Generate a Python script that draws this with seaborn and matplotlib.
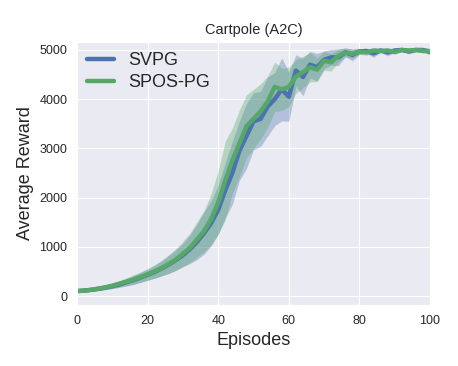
import numpy as np
import pandas as pd
import seaborn as sns
import matplotlib.pyplot as plt

episodes = list(range(0, 101, 2))

svpg_mean = [100, 110, 125, 145, 170, 200, 235, 280, 325, 375, 430, 490, 560, 640, 730, 830,
             950, 1100, 1280, 1480, 1750, 2150, 2500, 2950, 3250, 3550, 3600, 3850, 4000, 4200,
             4050, 4580, 4450, 4700, 4650, 4800, 4850, 4850, 4950, 4900, 4970, 4980, 4930, 4990,
             4950, 4990, 5000, 4970, 5000, 5000, 4960]
svpg_spread = [20, 25, 30, 35, 40, 50, 60, 75, 90, 100, 110, 130, 150, 180, 210, 240,
               290, 360, 430, 460, 500, 560, 640, 600, 660, 580, 560, 600, 540, 640,
               500, 320, 380, 270, 280, 180, 160, 170, 90, 120, 60, 50, 80, 40,
               70, 40, 30, 50, 30, 30, 60]

spos_mean = [100, 110, 125, 150, 175, 210, 250, 290, 335, 385, 440, 500, 570, 650, 740, 860,
             980, 1150, 1320, 1560, 1900, 2350, 2750, 3100, 3450, 3600, 3750, 3950, 4250, 4200,
             4250, 4460, 4550, 4650, 4600, 4780, 4750, 4880, 4950, 4920, 4970, 4950, 4990, 4980,
             4990, 4960, 5000, 4990, 5000, 4980, 4980]
spos_spread = [20, 25, 30, 35, 45, 55, 65, 80, 95, 105, 120, 135, 160, 190, 220, 250,
               300, 360, 420, 520, 640, 800, 660, 680, 640, 600, 560, 520, 500, 430,
               400, 340, 320, 300, 240, 190, 180, 130, 90, 90, 60, 60, 40, 40,
               30, 50, 30, 30, 30, 40, 40]

sns.set_style('darkgrid')
plt.rcParams['font.family'] = ['Liberation Sans', 'DejaVu Sans']

fig = plt.figure(figsize=(4.58, 3.66), dpi=100)
ax = fig.add_axes([0.168, 0.167, 0.771, 0.718])

colors = {'SVPG': '#4C72B0', 'SPOS-PG': '#55A868'}
series = [('SVPG', svpg_mean, svpg_spread), ('SPOS-PG', spos_mean, spos_spread)]

for name, mean, spread in series:
    m = np.array(mean)
    s = np.array(spread)
    ax.fill_between(episodes, m - s, m + s, color=colors[name], alpha=0.35, linewidth=0)

for name, mean, spread in series:
    df = pd.DataFrame({'Episodes': episodes, 'Average Reward': mean})
    sns.lineplot(data=df, x='Episodes', y='Average Reward', ax=ax,
                 color=colors[name], linewidth=3.2, label=name)

ax.set_xlim(0, 100)
ax.set_ylim(-180, 5160)
ax.set_xticks([0, 20, 40, 60, 80, 100])
ax.set_yticks([0, 1000, 2000, 3000, 4000, 5000])
ax.tick_params(labelsize=9)
ax.set_title('Cartpole (A2C)', fontsize=10.5)
ax.set_xlabel('Episodes', fontsize=13)
ax.set_ylabel('Average Reward', fontsize=13)
ax.legend(loc='upper left', fontsize=13, frameon=False, handlelength=1.5,
          borderaxespad=0.35, borderpad=0.2, labelspacing=0.3)

fig.savefig('out.png', dpi=100)
